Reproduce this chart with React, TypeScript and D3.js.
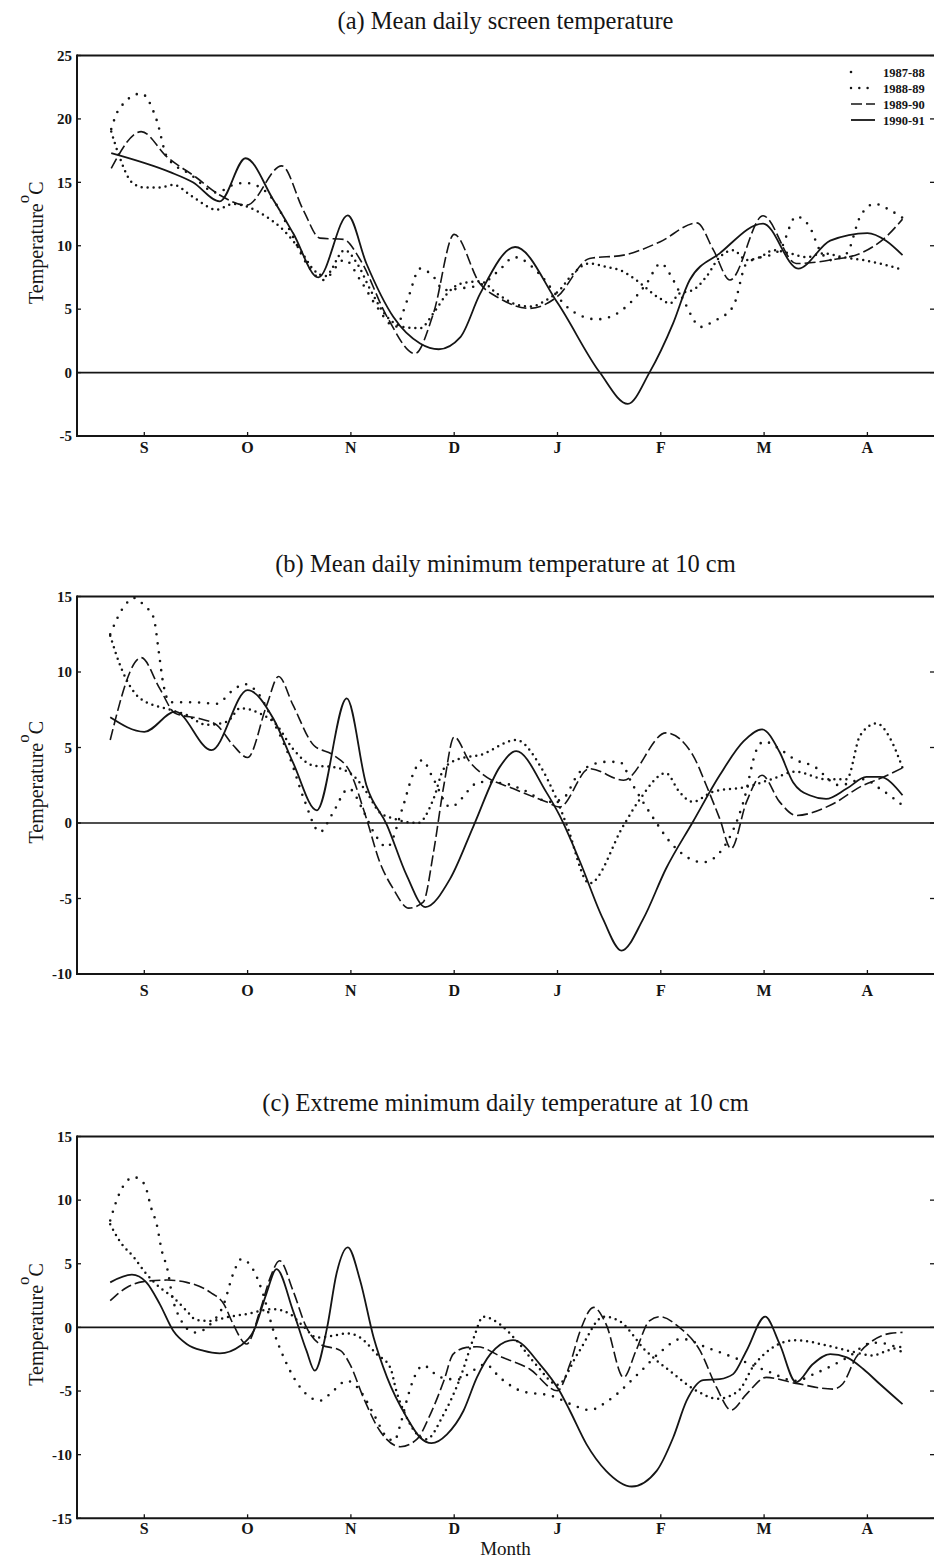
import React, { useRef, useEffect } from 'react';
import * as d3 from 'd3';

// month ticks (x in months, S = 0)
const months = ['S', 'O', 'N', 'D', 'J', 'F', 'M', 'A'];
const seasons = ['1987-88', '1988-89', '1989-90', '1990-91'];

// (a) Mean daily screen temperature  [month, degC]
const a8788: [number, number][] = [[-0.32,19.2],[-0.25,20.7],[-0.03,22.0],[0.12,19.9],[0.22,17.0],[0.45,15.6],[0.7,14.2],[0.86,14.8],[0.975,14.95],[1.12,14.6],[1.25,13.6],[1.41,11.2],[1.57,8.6],[1.73,7.3],[1.94,8.9],[2.09,7.3],[2.25,5.2],[2.43,3.6],[2.55,5.8],[2.67,8.2],[2.8,7.55],[2.9,6.5],[3.06,6.64],[3.25,6.9],[3.44,8.1],[3.58,9.1],[3.85,7.55],[4.0,6.0],[4.09,5.2],[4.22,4.5],[4.38,4.2],[4.54,4.5],[4.7,5.46],[4.86,7.0],[5.0,8.6],[5.12,7.3],[5.22,5.7],[5.39,3.6],[5.5,4.0],[5.7,5.2],[5.83,8.6],[6.15,9.65],[6.31,12.3],[6.44,11.5],[6.54,9.65],[6.64,8.87],[6.8,9.4],[6.93,12.3],[7.07,13.3],[7.22,12.8],[7.34,12.2]];
const a8889: [number, number][] = [[-0.32,19.0],[-0.24,17.0],[-0.12,15.0],[0.0,14.6],[0.15,14.6],[0.28,14.8],[0.47,13.85],[0.7,12.85],[0.86,13.3],[0.99,13.1],[1.18,12.3],[1.35,11.2],[1.51,9.65],[1.64,8.1],[1.75,7.6],[1.94,9.65],[2.06,8.6],[2.19,6.5],[2.32,4.7],[2.51,3.6],[2.67,3.5],[2.8,4.7],[2.93,6.2],[3.06,7.0],[3.25,7.2],[3.41,6.25],[3.57,5.46],[3.73,5.2],[3.89,5.7],[4.02,6.5],[4.15,7.8],[4.31,8.6],[4.47,8.34],[4.64,7.95],[4.76,7.3],[4.99,5.85],[5.09,5.46],[5.18,6.24],[5.31,6.5],[5.44,7.55],[5.57,9.1],[5.7,9.65],[5.83,8.87],[5.96,9.1],[6.09,9.65],[6.25,9.4],[6.41,9.1],[6.57,9.4],[6.76,9.1],[6.96,8.87],[7.12,8.6],[7.34,8.1]];
const a8990: [number, number][] = [[-0.32,16.1],[-0.03,19.0],[0.22,17.0],[0.5,15.4],[0.73,14.0],[0.99,13.2],[1.33,16.3],[1.54,12.8],[1.70,10.6],[1.93,10.5],[2.09,8.9],[2.35,4.4],[2.62,1.5],[2.8,4.7],[3.0,10.9],[3.25,7.0],[3.44,5.85],[3.73,5.06],[4.0,6.0],[4.31,9.0],[4.64,9.26],[4.99,10.3],[5.35,11.8],[5.51,9.65],[5.67,7.3],[5.99,12.36],[6.31,8.6],[6.64,8.87],[6.96,9.5],[7.18,10.7],[7.34,12.1]];
const a9091: [number, number][] = [[-0.32,17.3],[0.25,15.8],[0.47,15.0],[0.73,13.5],[0.98,16.9],[1.25,13.6],[1.44,11.0],[1.685,7.5],[1.97,12.4],[2.15,8.6],[2.41,4.4],[2.67,2.3],[2.85,1.84],[3.06,2.8],[3.25,6.2],[3.59,9.9],[4.0,5.5],[4.41,0],[4.68,-2.47],[4.89,0],[5.12,3.9],[5.28,7.3],[5.57,9.4],[5.99,11.75],[6.33,8.2],[6.64,10.4],[7.0,11.0],[7.18,10.4],[7.34,9.26]];

// (b) Mean daily minimum temperature at 10 cm
const b8788: [number, number][] = [[-0.33,12.5],[-0.2,14.3],[-0.1,14.9],[0.0,14.4],[0.09,13.6],[0.14,11.35],[0.18,9.36],[0.25,8.0],[0.47,8.0],[0.7,7.9],[0.86,8.8],[0.97,9.2],[1.1,8.6],[1.25,6.7],[1.41,4.3],[1.55,1.5],[1.70,-0.6],[1.82,0.6],[1.98,2.28],[2.12,0.8],[2.22,-0.6],[2.35,-1.6],[2.5,1.0],[2.6,3.2],[2.69,4.16],[2.8,2.9],[2.96,1.06],[3.25,2.72],[3.5,2.6],[3.64,2.28],[3.93,1.4],[4.05,1.6],[4.22,3.4],[4.47,4.05],[4.6,4.05],[4.73,2.5],[4.93,0.3],[5.09,-1.26],[5.41,-2.6],[5.6,-1.7],[5.8,1.4],[5.93,4.9],[6.0,5.4],[6.15,4.9],[6.31,4.16],[6.47,3.8],[6.73,2.5],[6.96,2.9],[7.12,2.28],[7.34,1.17]];
const b8889: [number, number][] = [[-0.33,12.4],[-0.22,10.2],[-0.04,8.25],[0.25,7.5],[0.41,7.15],[0.6,6.5],[0.8,6.7],[0.93,7.6],[1.12,7.25],[1.28,6.5],[1.44,4.9],[1.64,3.8],[1.83,3.7],[2.02,3.16],[2.15,2.06],[2.28,0.7],[2.41,0.3],[2.65,0.0],[2.8,1.6],[2.9,3.6],[3.06,4.27],[3.25,4.5],[3.6,5.5],[3.83,3.8],[3.99,1.6],[4.09,-0.15],[4.31,-4.0],[4.64,-0.15],[4.8,1.6],[5.05,3.3],[5.18,2.06],[5.31,1.4],[5.5,2.06],[5.83,2.4],[6.09,2.94],[6.3,3.4],[6.6,2.9],[6.8,2.9],[6.93,5.8],[7.09,6.6],[7.22,5.6],[7.34,3.65]];
const b8990: [number, number][] = [[-0.33,5.5],[-0.03,10.95],[0.15,8.9],[0.3,7.26],[0.54,6.9],[0.70,6.5],[0.86,5.15],[1.0,4.34],[1.185,7.8],[1.30,9.7],[1.44,7.8],[1.64,5.15],[1.83,4.5],[1.99,3.4],[2.15,0.3],[2.28,-2.6],[2.41,-4.36],[2.56,-5.64],[2.70,-5.24],[2.80,-1.92],[2.90,2.5],[3.0,5.7],[3.15,4.05],[3.28,3.2],[3.57,2.28],[3.89,1.4],[4.02,1.06],[4.31,3.6],[4.64,2.83],[5.05,5.97],[5.31,4.5],[5.44,2.5],[5.57,0.29],[5.68,-1.7],[5.83,1.4],[5.98,3.16],[6.15,1.4],[6.31,0.5],[6.64,1.17],[6.96,2.5],[7.12,2.94],[7.34,3.65]];
const b9091: [number, number][] = [[-0.33,7.0],[0.0,6.04],[0.3,7.37],[0.65,4.82],[1.0,8.8],[1.25,6.9],[1.44,4.0],[1.67,0.84],[1.96,8.25],[2.15,2.5],[2.35,-0.15],[2.54,-3.47],[2.72,-5.57],[2.96,-3.7],[3.19,-0.15],[3.44,3.7],[3.6,4.76],[3.89,2.06],[4.02,0.5],[4.22,-2.6],[4.44,-6.35],[4.62,-8.45],[4.83,-6.35],[5.05,-3.03],[5.31,0.07],[5.57,3.16],[5.80,5.4],[5.98,6.2],[6.15,4.7],[6.28,2.7],[6.44,1.84],[6.6,1.6],[6.8,2.28],[6.99,3.05],[7.12,3.05],[7.34,1.84]];

// (c) Extreme minimum daily temperature at 10 cm
const c8788: [number, number][] = [[-0.33,8.4],[-0.25,10.35],[-0.1,11.8],[0.0,11.27],[0.07,9.3],[0.12,8.1],[0.17,6.0],[0.22,4.7],[0.28,2.1],[0.35,0.65],[0.44,-0.26],[0.5,-0.4],[0.64,0.26],[0.77,1.83],[0.86,4.2],[0.94,5.37],[1.06,4.45],[1.15,2.62],[1.25,-0.26],[1.35,-2.36],[1.51,-4.72],[1.70,-5.76],[1.83,-4.98],[1.96,-4.19],[2.09,-4.98],[2.22,-6.81],[2.35,-8.65],[2.42,-8.9],[2.48,-7.6],[2.54,-5.76],[2.6,-4.2],[2.7,-3.0],[2.86,-3.9],[3.03,-4.1],[3.2,-3.3],[3.3,-2.9],[3.45,-4.0],[3.65,-5.0],[3.95,-5.4],[4.15,-6.1],[4.31,-6.5],[4.5,-5.7],[4.8,-3.5],[5.0,-1.9],[5.2,-0.9],[5.45,-1.6],[5.75,-2.5],[6.05,-3.5],[6.3,-4.2],[6.5,-3.6],[6.8,-2.4],[7.05,-1.2],[7.2,-1.3],[7.34,-2.0]];
const c8889: [number, number][] = [[-0.33,8.1],[-0.24,6.8],[-0.1,5.5],[0.02,4.2],[0.15,3.14],[0.28,2.36],[0.41,1.3],[0.5,0.6],[0.64,0.5],[0.8,0.8],[0.99,1.05],[1.25,1.44],[1.41,1.05],[1.55,0.0],[1.67,-0.8],[1.83,-0.65],[1.96,-0.47],[2.09,-0.8],[2.25,-2.1],[2.38,-3.14],[2.44,-5.0],[2.54,-7.07],[2.64,-8.4],[2.73,-8.78],[2.9,-6.8],[3.06,-3.93],[3.19,-0.8],[3.28,0.84],[3.44,0.26],[3.6,-1.0],[3.8,-3.0],[4.0,-4.5],[4.2,-2.0],[4.45,0.84],[4.6,0.5],[4.85,-1.8],[5.1,-3.5],[5.35,-5.0],[5.55,-5.6],[5.75,-5.0],[5.9,-3.0],[6.1,-1.5],[6.3,-1.0],[6.6,-1.4],[6.85,-1.9],[7.05,-2.2],[7.2,-1.8],[7.34,-1.5]];
const c8990: [number, number][] = [[-0.33,2.1],[-0.17,3.14],[-0.01,3.6],[0.22,3.72],[0.41,3.54],[0.64,2.75],[0.77,1.83],[0.86,0.26],[0.99,-1.31],[1.12,1.31],[1.22,3.93],[1.31,5.24],[1.44,2.88],[1.57,0],[1.70,-1.31],[1.9,-1.83],[1.99,-2.88],[2.12,-5.5],[2.28,-8.12],[2.48,-9.38],[2.64,-8.78],[2.77,-6.81],[2.9,-4.19],[2.99,-2.1],[3.12,-1.57],[3.22,-1.52],[3.47,-2.36],[3.73,-3.27],[4.0,-4.98],[4.12,-2.9],[4.22,-0.26],[4.35,1.57],[4.47,0.26],[4.64,-3.93],[4.76,-1.83],[4.89,0.52],[4.99,0.84],[5.18,0],[5.38,-1.83],[5.54,-4.72],[5.68,-6.5],[5.83,-5.24],[6.02,-3.93],[6.31,-4.4],[6.67,-4.85],[6.76,-4.45],[6.89,-2.36],[7.05,-1.05],[7.22,-0.47],[7.34,-0.39]];
const c9091: [number, number][] = [[-0.33,3.54],[-0.12,4.14],[0.02,3.54],[0.15,1.83],[0.28,-0.26],[0.41,-1.3],[0.57,-1.83],[0.73,-2.04],[0.93,-1.44],[1.06,-0.26],[1.18,2.6],[1.28,4.58],[1.44,1.3],[1.57,-1.83],[1.65,-3.4],[1.77,0],[1.86,4.2],[1.97,6.29],[2.09,3.67],[2.22,-0.8],[2.35,-3.93],[2.54,-7.07],[2.67,-8.65],[2.78,-9.1],[2.93,-8.4],[3.09,-6.55],[3.22,-3.93],[3.35,-2.1],[3.57,-1.0],[3.83,-2.9],[4.02,-5.0],[4.12,-6.55],[4.28,-9.17],[4.47,-11.27],[4.72,-12.5],[4.96,-11.27],[5.12,-8.65],[5.25,-5.76],[5.41,-4.14],[5.57,-4.06],[5.7,-3.67],[5.83,-1.83],[6.01,0.84],[6.15,-1.3],[6.31,-4.32],[6.47,-2.9],[6.64,-2.1],[6.8,-2.36],[6.96,-3.27],[7.12,-4.45],[7.34,-6.03]];

const aTicks = [-5, 0, 5, 10, 15, 20, 25];
const bTicks = [-10, -5, 0, 5, 10, 15];
const cTicks = [-15, -10, -5, 0, 5, 10, 15];

const panels = [
  { title: '(a) Mean daily screen temperature', ticks: aTicks, series: [a8788, a8889, a8990, a9091],
    top: 55.5, bottom: 436, titleY: 29, monthY: 452.5, legend: true },
  { title: '(b) Mean daily minimum temperature at 10 cm', ticks: bTicks, series: [b8788, b8889, b8990, b9091],
    top: 596.5, bottom: 974, titleY: 572, monthY: 995.5, legend: false },
  { title: '(c) Extreme minimum daily temperature at 10 cm', ticks: cTicks, series: [c8788, c8889, c8990, c9091],
    top: 1136.5, bottom: 1518.3, titleY: 1111, monthY: 1533.5, legend: false, xLabel: 'Month' },
];

const serif = "'Liberation Serif', 'Times New Roman', serif";
const ink = '#151515';
// line style per season: sparse dots, dense dots, long dash, solid
const styles = [
  { dash: '0 9', width: 2.6, cap: 'round' },
  { dash: '0 6', width: 2.5, cap: 'round' },
  { dash: '11 4', width: 1.6, cap: 'butt' },
  { dash: null, width: 1.8, cap: 'butt' },
];

export default function App() {
  const svgRef = useRef<SVGSVGElement>(null);

  useEffect(() => {
    const svg = d3.select(svgRef.current);
    svg.selectAll('*').remove();

    const left = 77;
    const right = 934;
    // S tick sits at 144.3px, one month = 103.3px
    const x = d3.scaleLinear().domain([(left - 144.3) / 103.3, (right - 144.3) / 103.3]).range([left, right]);

    panels.forEach((p) => {
      const y = d3.scaleLinear()
        .domain([p.ticks[0], p.ticks[p.ticks.length - 1]])
        .range([p.bottom, p.top]);
      const g = svg.append('g');

      // title
      g.append('text')
        .attr('x', (left + right) / 2)
        .attr('y', p.titleY)
        .attr('text-anchor', 'middle')
        .style('font-family', serif)
        .style('font-size', '24.5px')
        .style('fill', ink)
        .text(p.title);

      // frame: top, bottom, left
      g.append('line').attr('x1', left).attr('x2', right).attr('y1', p.top).attr('y2', p.top)
        .attr('stroke', ink).attr('stroke-width', 2);
      g.append('line').attr('x1', left).attr('x2', right).attr('y1', p.bottom).attr('y2', p.bottom)
        .attr('stroke', ink).attr('stroke-width', 2);
      g.append('line').attr('x1', left).attr('x2', left).attr('y1', p.top - 1).attr('y2', p.bottom + 1)
        .attr('stroke', ink).attr('stroke-width', 2);

      // zero line
      g.append('line').attr('x1', left).attr('x2', right).attr('y1', y(0)).attr('y2', y(0))
        .attr('stroke', ink).attr('stroke-width', 1.6);

      // y ticks (inward, both sides)
      p.ticks.forEach((t) => {
        g.append('line').attr('x1', left).attr('x2', left + 4).attr('y1', y(t)).attr('y2', y(t))
          .attr('stroke', ink).attr('stroke-width', 1.3);
        g.append('line').attr('x1', right - 4).attr('x2', right).attr('y1', y(t)).attr('y2', y(t))
          .attr('stroke', ink).attr('stroke-width', 1.3);
        g.append('text')
          .attr('x', left - 5)
          .attr('y', y(t))
          .attr('dy', '0.35em')
          .attr('text-anchor', 'end')
          .style('font-family', serif)
          .style('font-size', '15px')
          .style('font-weight', 'bold')
          .style('fill', ink)
          .text(t);
      });

      // month ticks + labels
      months.forEach((m, i) => {
        g.append('line').attr('x1', x(i)).attr('x2', x(i)).attr('y1', p.bottom).attr('y2', p.bottom - 4)
          .attr('stroke', ink).attr('stroke-width', 1.3);
        g.append('text')
          .attr('x', x(i))
          .attr('y', p.monthY)
          .attr('text-anchor', 'middle')
          .style('font-family', serif)
          .style('font-size', '16px')
          .style('font-weight', 'bold')
          .style('fill', ink)
          .text(m);
      });

      // y axis title
      const cy = (p.top + p.bottom) / 2 - 3;
      const lab = g.append('text')
        .attr('transform', `translate(43,${cy}) rotate(-90)`)
        .attr('text-anchor', 'middle')
        .style('font-family', serif)
        .style('font-size', '20px')
        .style('fill', ink);
      lab.append('tspan').text('Temperature');
      lab.append('tspan').attr('dy', -14).style('font-size', '17px').text('o');
      lab.append('tspan').attr('dy', 14).text('C');

      if (p.xLabel) {
        g.append('text')
          .attr('x', (left + right) / 2)
          .attr('y', 1555)
          .attr('text-anchor', 'middle')
          .style('font-family', serif)
          .style('font-size', '19px')
          .style('fill', ink)
          .text(p.xLabel);
      }

      // series
      const line = d3.line<[number, number]>()
        .x((d) => x(d[0]))
        .y((d) => y(d[1]))
        .curve(d3.curveMonotoneX);

      p.series.forEach((s, i) => {
        const st = styles[i];
        g.append('path')
          .datum(s)
          .attr('fill', 'none')
          .attr('stroke', ink)
          .attr('stroke-width', st.width)
          .attr('stroke-linecap', st.cap)
          .attr('stroke-dasharray', st.dash)
          .attr('d', line);
      });

      // legend
      if (p.legend) {
        seasons.forEach((name, i) => {
          const ly = 72 + 16 * i;
          const st = styles[i];
          g.append('line')
            .attr('x1', 851).attr('x2', i === 0 ? 866 : 875)
            .attr('y1', ly).attr('y2', ly)
            .attr('stroke', ink)
            .attr('stroke-width', st.width)
            .attr('stroke-linecap', st.cap)
            .attr('stroke-dasharray', i === 0 ? '0 15' : i === 1 ? '0 8.3' : st.dash);
          g.append('text')
            .attr('x', 883)
            .attr('y', ly + 4.5)
            .style('font-family', serif)
            .style('font-size', '12.5px')
            .style('font-weight', 'bold')
            .style('fill', ink)
            .text(name);
        });
      }
    });
  }, []);

  return (
    <svg ref={svgRef} width={934} height={1561}
      style={{ position: 'absolute', left: 0, top: 0, background: '#fff' }} />
  );
}
